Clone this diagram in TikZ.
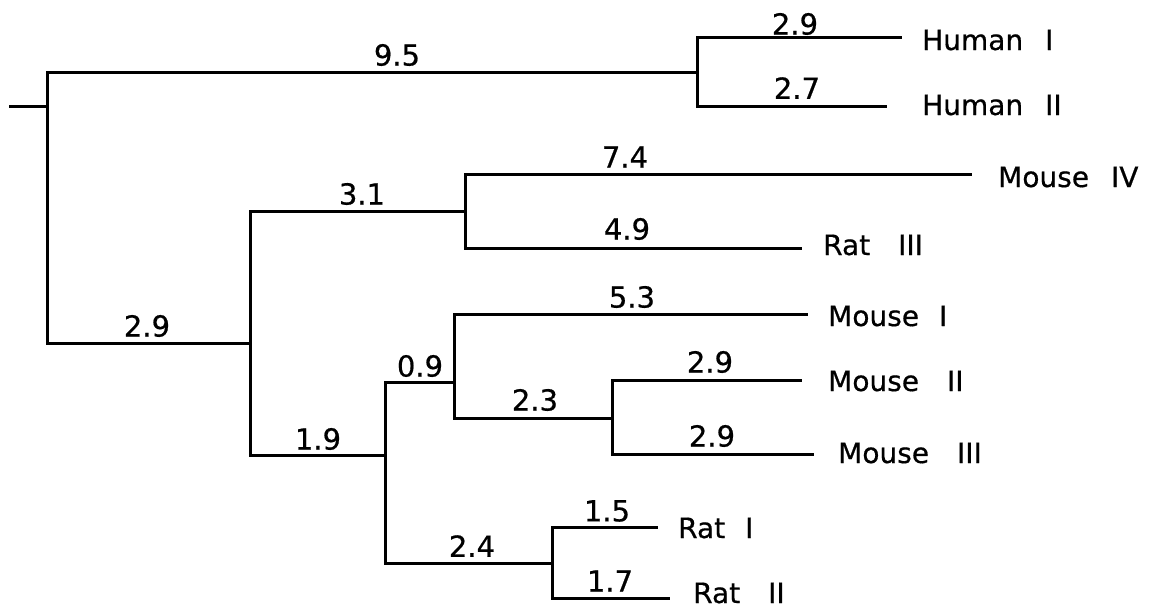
\documentclass[tikz,border=0pt]{standalone}
\usepackage{fontspec}
\setmainfont{DejaVu Sans}
\newfontfamily\treefont[FakeBold=0.6]{DejaVu Sans}
\begin{document}
\begin{tikzpicture}[x=1pt,y=-1pt,
  br/.style={line width=3pt, line cap=rect},
  lbl/.style={font=\treefont\fontsize{29}{31}\selectfont, inner sep=0pt, anchor=center},
  leaf/.style={font=\treefont\fontsize{28}{30}\selectfont, inner sep=0pt, anchor=west}]
\useasboundingbox (0,0) rectangle (1156,608);
% internal nodes
\coordinate (stub) at (10,106);
\coordinate (root) at (47,106);
\coordinate (rootT) at (47,72);
\coordinate (rootB) at (47,343);
\coordinate (hum) at (697,72);
\coordinate (humT) at (697,37);
\coordinate (humB) at (697,106);
\coordinate (a) at (250,343);
\coordinate (aT) at (250,211);
\coordinate (aB) at (250,455);
\coordinate (mr) at (465,211);
\coordinate (mrT) at (465,174);
\coordinate (mrB) at (465,248);
\coordinate (b) at (385,455);
\coordinate (bT) at (385,382);
\coordinate (bB) at (385,563);
\coordinate (c) at (454,382);
\coordinate (cT) at (454,314);
\coordinate (cB) at (454,418);
\coordinate (d) at (612,418);
\coordinate (dT) at (612,380);
\coordinate (dB) at (612,454);
\coordinate (e) at (552,563);
\coordinate (eT) at (552,527);
\coordinate (eB) at (552,598);
% leaf ends
\coordinate (h1e) at (900,37);
\coordinate (h2e) at (885,106);
\coordinate (m4e) at (970,174);
\coordinate (r3e) at (800,248);
\coordinate (m1e) at (806,314);
\coordinate (m2e) at (800,380);
\coordinate (m3e) at (812,454);
\coordinate (r1e) at (656,527);
\coordinate (r2e) at (668,598);
% leaf labels
\node[leaf] (h1) at (922,40) {Human\hspace{22pt}I};
\node[leaf] (h2) at (922,105) {Human\hspace{22pt}II};
\node[leaf] (m4) at (998,177) {Mouse\hspace{22pt}IV};
\node[leaf] (r3) at (823,245) {Rat\hspace{28pt}III};
\node[leaf] (m1) at (828,316) {Mouse\hspace{20pt}I};
\node[leaf] (m2) at (828,381) {Mouse\hspace{28pt}II};
\node[leaf] (m3) at (838,453) {Mouse\hspace{28pt}III};
\node[leaf] (r1) at (678,528) {Rat\hspace{20pt}I};
\node[leaf] (r2) at (693,593) {Rat\hspace{28pt}II};
% branches
\draw[br] (stub) -- (root);
\draw[br] (rootT) -- (rootB);
\draw[br] (rootT) -- (hum);
\draw[br] (humT) -- (humB);
\draw[br] (humT) -- (h1e);
\draw[br] (humB) -- (h2e);
\draw[br] (rootB) -- (a);
\draw[br] (aT) -- (aB);
\draw[br] (aT) -- (mr);
\draw[br] (mrT) -- (mrB);
\draw[br] (mrT) -- (m4e);
\draw[br] (mrB) -- (r3e);
\draw[br] (aB) -- (b);
\draw[br] (bT) -- (bB);
\draw[br] (bT) -- (c);
\draw[br] (cT) -- (cB);
\draw[br] (cT) -- (m1e);
\draw[br] (cB) -- (d);
\draw[br] (dT) -- (dB);
\draw[br] (dT) -- (m2e);
\draw[br] (dB) -- (m3e);
\draw[br] (bB) -- (e);
\draw[br] (eT) -- (eB);
\draw[br] (eT) -- (r1e);
\draw[br] (eB) -- (r2e);
% branch lengths
\node[lbl] (l95) at (397,55) {9.5};
\node[lbl] (l29h) at (795,24) {2.9};
\node[lbl] (l27) at (797,88) {2.7};
\node[lbl] (l29a) at (147,326) {2.9};
\node[lbl] (l31) at (362,194) {3.1};
\node[lbl] (l74) at (625,157) {7.4};
\node[lbl] (l49) at (627,229) {4.9};
\node[lbl] (l19) at (318,439) {1.9};
\node[lbl] (l09) at (420,366) {0.9};
\node[lbl] (l53) at (632,297) {5.3};
\node[lbl] (l23) at (535,400) {2.3};
\node[lbl] (l29m2) at (710,362) {2.9};
\node[lbl] (l29m3) at (712,436) {2.9};
\node[lbl] (l24) at (472,546) {2.4};
\node[lbl] (l15) at (607,511) {1.5};
\node[lbl] (l17) at (610,581) {1.7};
\end{tikzpicture}
\end{document}
